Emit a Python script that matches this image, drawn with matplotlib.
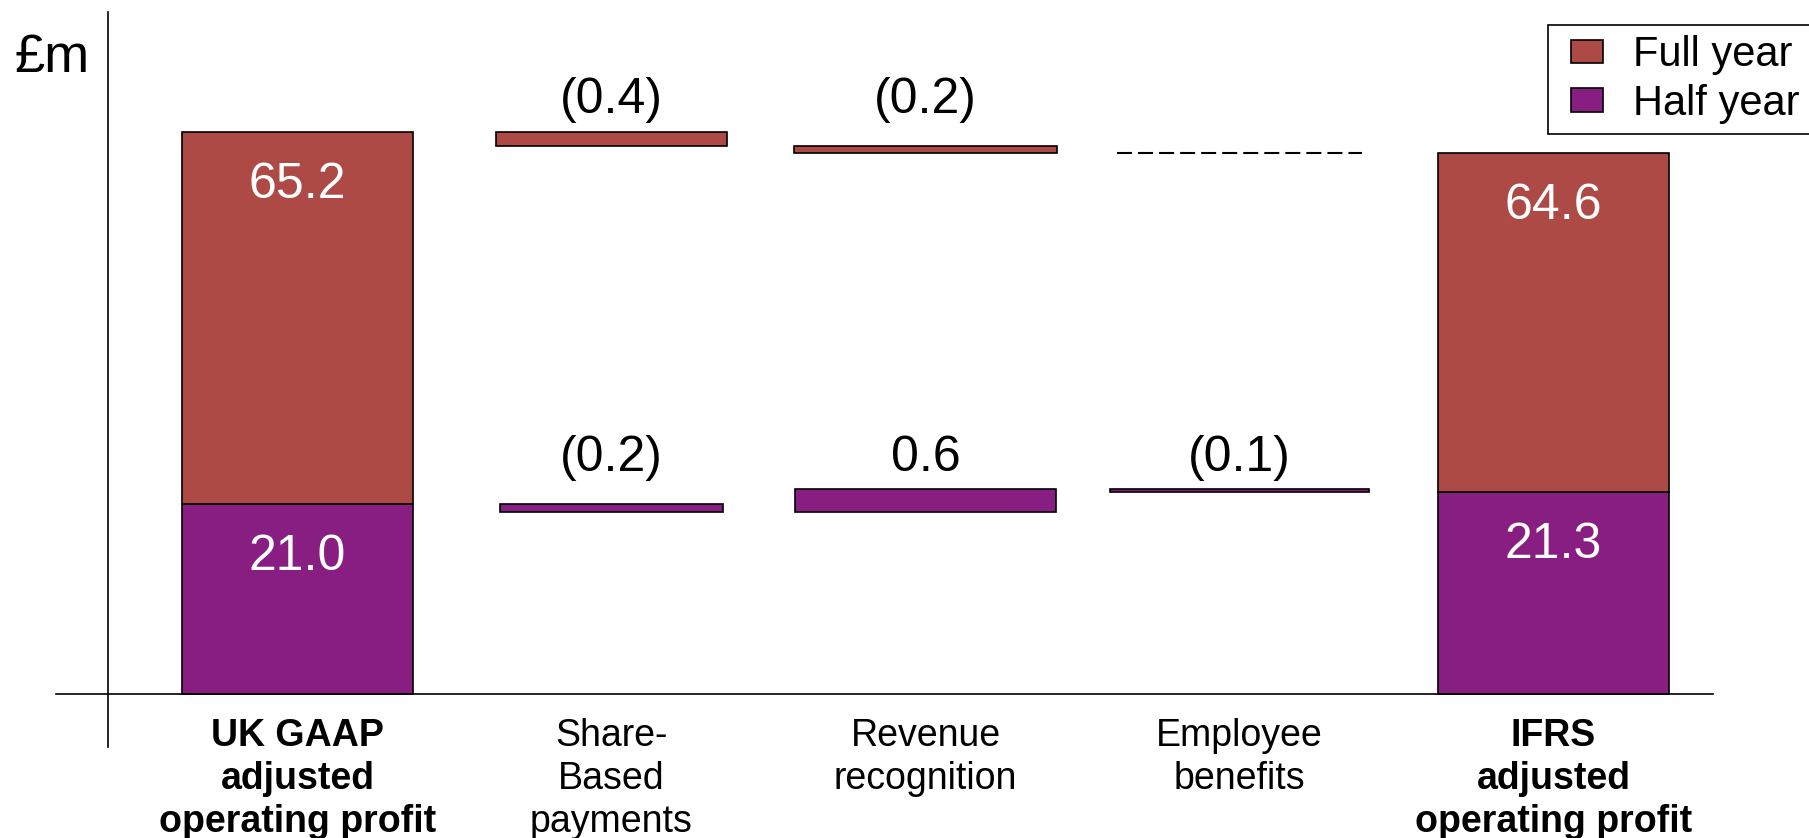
import numpy as np
import matplotlib
matplotlib.use("Agg")
import matplotlib.pyplot as plt
from matplotlib.legend_handler import HandlerPatch
from matplotlib.patches import Rectangle

# ---------------------------------------------------------------------------
# Data (£m)
# ---------------------------------------------------------------------------
categories = [
    "UK GAAP\nadjusted\noperating profit",
    "Share-\nBased\npayments",
    "Revenue\nrecognition",
    "Employee\nbenefits",
    "IFRS\nadjusted\noperating profit",
]
full_year_start = 65.2
full_year_changes = [-0.4, -0.2, 0.0]
full_year_end = 64.6

half_year_start = 21.0
half_year_changes = [-0.2, 0.6, -0.1]
half_year_end = 21.3

# ---------------------------------------------------------------------------
# Style
# ---------------------------------------------------------------------------
RED = "#AE4A45"
PURPLE = "#891E82"
EDGE_LW = 1.2
end_width = 0.736
full_widths = [0.733, 0.838, 0.78]
half_widths = [0.71, 0.834, 0.825]

# The original is schematic: the y axis is stretched around the two bridge
# levels so that the small adjustments are visible.  Piecewise-linear scale.
scale_values = [-6.0, 0.0, 20.8, 21.4, 64.6, 65.2, 83.0]
scale_heights = [-53.0, 0.0, 182.5, 205.5, 541.0, 562.0, 682.0]


def _forward(v):
    return np.interp(v, scale_values, scale_heights)


def _inverse(h):
    return np.interp(h, scale_heights, scale_values)


def _fmt(d):
    return f"({abs(d):.1f})" if d < 0 else f"{d:.1f}"


def _legend_box(legend, orig_handle, xdescent, ydescent, width, height, fontsize):
    # small square pushed to the right end of the handle area
    return Rectangle((-xdescent + width - 23, -ydescent), 23, height)


plt.rcParams["font.family"] = ["Liberation Sans", "DejaVu Sans"]

W, H = 1809, 838
fig = plt.figure(figsize=(W / 100, H / 100), dpi=100)
ax = fig.add_axes([56 / W, 91 / H, (1713 - 56) / W, 735 / H])
ax.set_yscale("function", functions=(_forward, _inverse))
ax.set_ylim(scale_values[0], scale_values[-1])
ax.set_xlim(-0.769, 4.508)

x = np.arange(len(categories))
last = len(categories) - 1

# end bars (stacked: half year at the bottom, full year on top)
half_bars = ax.bar([0, last], [half_year_start, half_year_end], width=end_width,
                   color=PURPLE, edgecolor="black", linewidth=EDGE_LW, label="Half year")
full_bars = ax.bar([0, last],
                   [full_year_start - half_year_start, full_year_end - half_year_end],
                   bottom=[half_year_start, half_year_end], width=end_width,
                   color=RED, edgecolor="black", linewidth=EDGE_LW, label="Full year")

for xi, lo, hi in [(0, half_year_start, full_year_start), (last, half_year_end, full_year_end)]:
    for top in (lo, hi):
        ax.annotate(f"{top:.1f}", xy=(xi, top), xytext=(0, -53), textcoords="offset pixels",
                    ha="center", va="center", fontsize=36, color="white")


def draw_bridge(start, changes, widths, color, label_offset):
    level = start
    levels = [start]
    for i, (d, w) in enumerate(zip(changes, widths), start=1):
        new = level + d
        if d == 0:
            ax.hlines(level, i - w / 2, i + w / 2, colors="black",
                      linestyles=(0, (7.2, 2.9)), linewidth=1.5)
        else:
            ax.bar(i, abs(d), bottom=min(level, new), width=w, color=color,
                   edgecolor="black", linewidth=EDGE_LW)
        level = new
        levels.append(new)
    row_top = max(levels)
    for i, d in enumerate(changes, start=1):
        if d == 0:
            continue
        ax.annotate(_fmt(d), xy=(i, row_top), xytext=(0, label_offset),
                    textcoords="offset pixels", ha="center", va="center",
                    fontsize=36, color="black")


draw_bridge(full_year_start, full_year_changes, full_widths, RED, 32)
draw_bridge(half_year_start, half_year_changes, half_widths, PURPLE, 31)

# axes: baseline at zero, vertical line left of first bar
for side in ("top", "right"):
    ax.spines[side].set_visible(False)
ax.spines["bottom"].set_position(("data", 0))
ax.spines["left"].set_position(("data", -0.6035))
for side in ("bottom", "left"):
    ax.spines[side].set_linewidth(1.2)
    ax.spines[side].set_color("black")
ax.set_yticks([])
ax.set_xticks(x, categories, fontsize=27, linespacing=1.25)
ax.tick_params(axis="x", length=0, pad=17.5)
for i in (0, last):
    ax.get_xticklabels()[i].set_fontweight("bold")

fig.text(15 / W, 1 - 72 / H, "£m", fontsize=39, ha="left", va="baseline")

leg = fig.legend([full_bars[0], half_bars[0]], ["Full year", "Half year"],
                 loc="upper left", bbox_to_anchor=(1548 / W, 1 - 25 / H),
                 fontsize=30, frameon=True, fancybox=False, framealpha=1,
                 borderpad=0.25, labelspacing=0.2, handlelength=1.08,
                 handleheight=0.5, handletextpad=0.7, borderaxespad=0,
                 handler_map={Rectangle: HandlerPatch(patch_func=_legend_box)})
leg.get_frame().set_edgecolor("black")
leg.get_frame().set_linewidth(1.2)

fig.savefig("out.png", dpi=100)
